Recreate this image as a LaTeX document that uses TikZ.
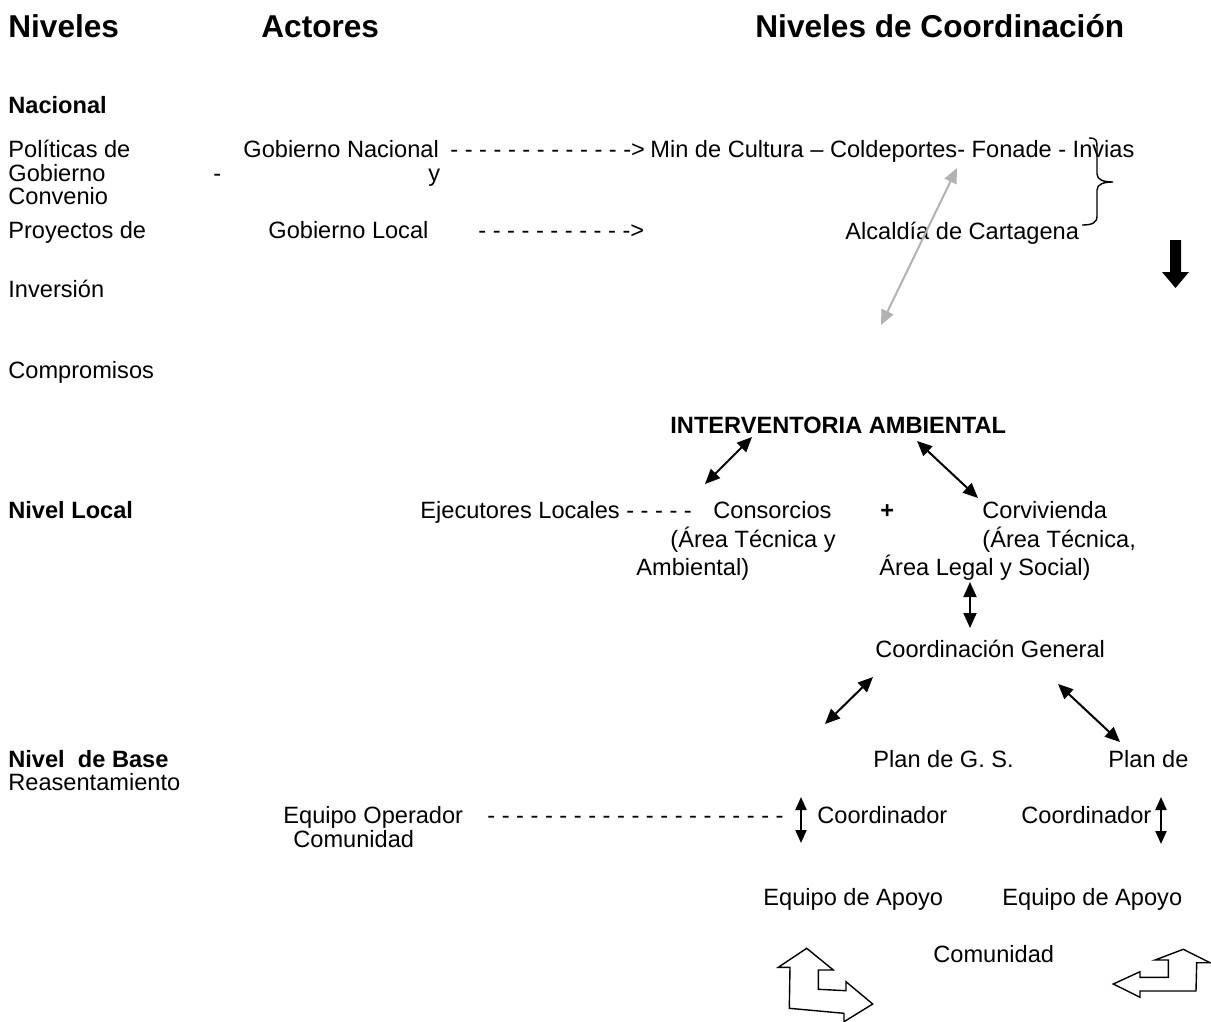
\documentclass[tikz,border=0pt]{standalone}
\usepackage{fontspec}
\setmainfont{Liberation Sans}
\usepackage{tikz}
\usetikzlibrary{arrows.meta, positioning}
\definecolor{gris}{RGB}{178,178,178}

\begin{document}
\begin{tikzpicture}[x=0.5pt, y=-0.5pt, font=\fontsize{11.8}{14}\selectfont,
		txt/.style={anchor=base west, inner sep=0pt},
		negr/.style={txt, font=\fontsize{11.8}{14}\selectfont\bfseries},
		titulo/.style={txt, font=\fontsize{15.8}{19}\selectfont\bfseries},
		flecha/.style={{Triangle[length=7.5pt,width=6.5pt]}-{Triangle[length=7.5pt,width=6.5pt]}, line width=1pt},
		flechav/.style={{Triangle[length=6.5pt,width=5.5pt]}-{Triangle[length=6.5pt,width=5.5pt]}, line width=1pt},
		bloque/.style={draw, line width=0.7pt, fill=white, line join=miter}]
				
				\useasboundingbox (0,0) rectangle (1211,1022);
				
				% Encabezados
				\node[titulo] (hniv)   at (8,38)   {Niveles};
				\node[titulo] (hact)   at (261,38) {Actores};
				\node[titulo] (hcoord) at (755,38) {Niveles de Coordinación};
				
				% Nivel nacional
				\node[negr] (nac)  at (8,114) {Nacional};
				\node[txt]  (pol1) at (8,158) {Políticas de};
				\node[txt]  (pol2) at (8,182) {Gobierno};
				\node[txt]  (guion) at (213,182) {-};
				\node[txt]  (pol3) at (8,205) {Convenio};
				\node[txt]  (pol4) at (8,238) {Proyectos de};
				\node[txt]  (inv)  at (8,297) {Inversión};
				\node[txt]  (comp) at (8,378) {Compromisos};
				
				\node[txt] (gobnac) at (243,158) {Gobierno Nacional};
				\node[txt] (rayas1) at (450,158) {- - - - - - - - - - - - ->};
				\node[txt] (mincul) at (650,158) {Min de Cultura – Coldeportes- Fonade - Invias};
				\node[txt] (yy)     at (428,182) {y};
				\node[txt] (gobloc) at (268,238) {Gobierno Local};
				\node[txt] (rayas2) at (478,238) {- - - - - - - - - - ->};
				\node[txt] (alc)    at (845,240) {Alcaldía de Cartagena};
				
				% Llave y flecha gruesa
				\draw[line width=0.7pt] (1089,138) .. controls (1097,138) and (1097,141) .. (1097,148)
					-- (1097,174) .. controls (1097,180) and (1104,182) .. (1113,182)
					.. controls (1104,182) and (1097,184) .. (1097,190)
					-- (1097,216) .. controls (1097,223) and (1092,225) .. (1082,225);
				\fill (1170,240) -- (1181,240) -- (1181,272) -- (1189,272) -- (1175.5,288)
					-- (1162,272) -- (1170,272) -- cycle;
				
				% Flecha gris
				\coordinate (gr1) at (957,168);
				\coordinate (gr2) at (881,325);
				\draw[flecha, gris] (gr1) -- (gr2);
				
				% Nivel local
				\node[negr] (inter) at (670,433) {INTERVENTORIA AMBIENTAL};
				\node[negr] (nloc)  at (8,518)   {Nivel Local};
				\node[txt]  (ejec)  at (420,518) {Ejecutores Locales - - - - -};
				\node[txt]  (cons)  at (713,518) {Consorcios};
				\node[txt]  (cons2) at (670,547) {(Área Técnica y};
				\node[txt]  (cons3) at (636,575) {Ambiental)};
				\node[negr] (mas)   at (880,518) {+};
				\node[txt]  (corv)  at (982,518) {Corvivienda};
				\node[txt]  (corv2) at (982,547) {(Área Técnica,};
				\node[txt]  (corv3) at (879,575) {Área Legal y Social)};
				\node[txt]  (cgen)  at (875,657) {Coordinación General};
				
				\coordinate (ia1) at (752,437);
				\coordinate (ia2) at (705,484);
				\coordinate (ia3) at (917,441);
				\coordinate (ia4) at (978,498);
				\coordinate (cv1) at (970,582);
				\coordinate (cv2) at (970,628);
				\draw[flecha] (ia1) -- (ia2);
				\draw[flecha] (ia3) -- (ia4);
				\draw[flecha] (cv1) -- (cv2);
				
				% Nivel de base
				\node[negr] (nbase)  at (8,767)    {Nivel \ de Base};
				\node[txt]  (reas)   at (8,790)    {Reasentamiento};
				\node[txt]  (plan1)  at (873,767)  {Plan de G. S.};
				\node[txt]  (plan2)  at (1108,767) {Plan de};
				\node[txt]  (eqop)   at (283,823)  {Equipo Operador};
				\node[txt]  (rayas3) at (487,823)  {- - - - - - - - - - - - - - - - - - - - -};
				\node[txt]  (com1)   at (293,847)  {Comunidad};
				\node[txt]  (coord1) at (817,823)  {Coordinador};
				\node[txt]  (coord2) at (1021,823) {Coordinador};
				\node[txt]  (apoyo1) at (763,905)  {Equipo de Apoyo};
				\node[txt]  (apoyo2) at (1002,905) {Equipo de Apoyo};
				\node[txt]  (com2)   at (933,962)  {Comunidad};
				
				\coordinate (cg1) at (873,677);
				\coordinate (cg2) at (825,724);
				\coordinate (cg3) at (1058,684);
				\coordinate (cg4) at (1120,742);
				\coordinate (co1) at (801,797);
				\coordinate (co2) at (801,843);
				\coordinate (co3) at (1161,797);
				\coordinate (co4) at (1161,844);
				\draw[flecha] (cg1) -- (cg2);
				\draw[flecha] (cg3) -- (cg4);
				\draw[flechav] (co1) -- (co2);
				\draw[flechav] (co3) -- (co4);
				
				% Flechas de bloque
				\draw[bloque] (806.7,948.3) -- (833.3,970) -- (818.3,970) -- (818.3,989.3) -- (846,990.7)
					-- (846,981.7) -- (872.7,1004) -- (844,1021.7) -- (844,1013.3) -- (789.3,1008.3)
					-- (790,967.3) -- (778.3,967.3) -- cycle;
				\draw[bloque] (1183.3,949.3) -- (1210,962.7) -- (1196.7,962.7) -- (1196,991) -- (1140,991)
					-- (1140,997.3) -- (1113.3,984) -- (1140,971.7) -- (1140,977.3) -- (1168.3,977.3)
					-- (1168.3,960) -- (1155,960) -- cycle;
				
			\end{tikzpicture}
\end{document}
